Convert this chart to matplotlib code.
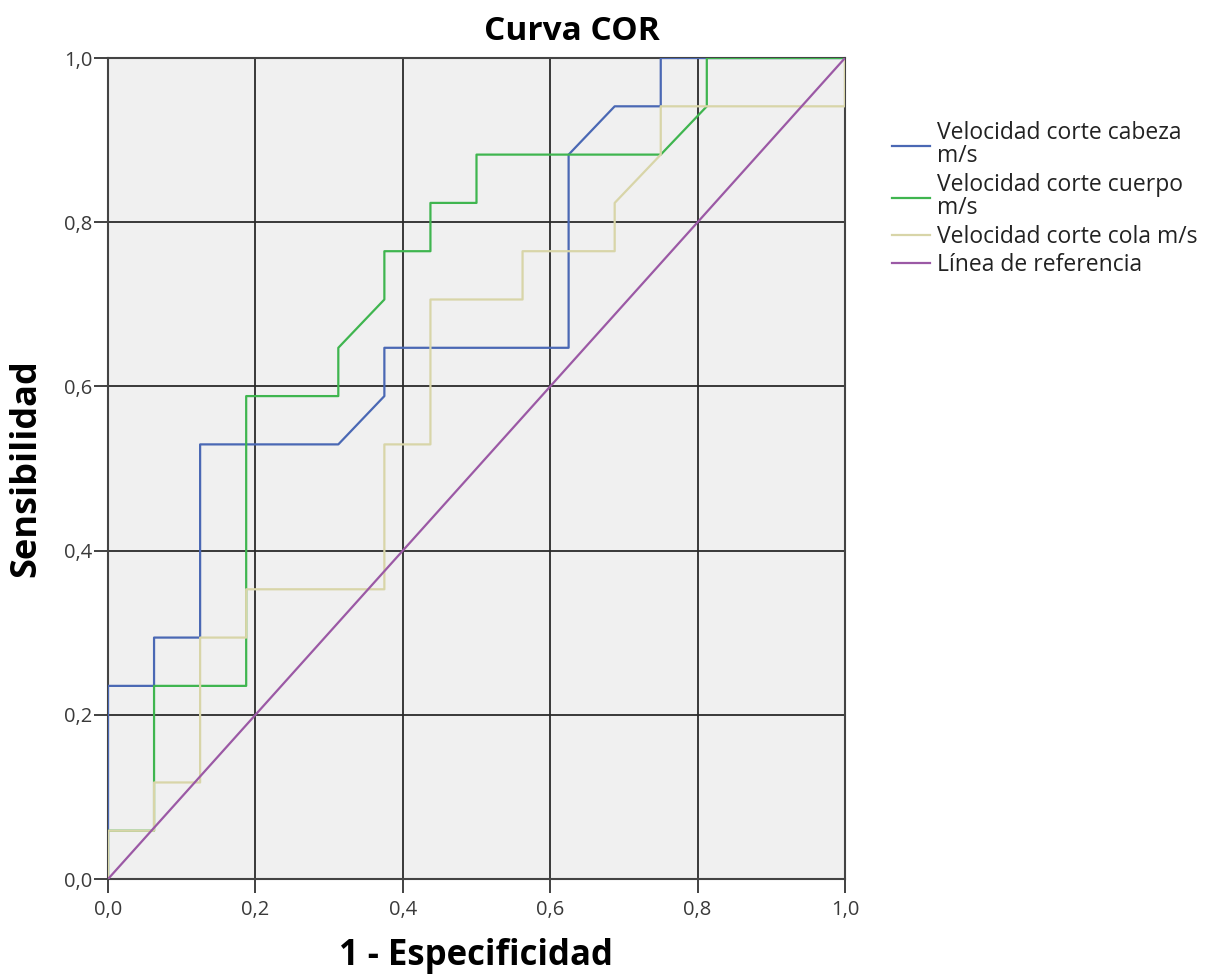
import matplotlib
matplotlib.use('Agg')
import matplotlib.pyplot as plt
from matplotlib.ticker import FuncFormatter

plt.rcParams['font.family'] = ['Open Sans', 'DejaVu Sans']

# curvas COR: 1 - especificidad (x) y sensibilidad (y), pasos de 1/16 y 1/17
cabeza_x = [0, 0, 1/16, 1/16, 2/16, 2/16, 5/16, 6/16, 6/16, 10/16, 10/16, 11/16, 12/16, 12/16, 1]
cabeza_y = [0, 4/17, 4/17, 5/17, 5/17, 9/17, 9/17, 10/17, 11/17, 11/17, 15/17, 16/17, 16/17, 1, 1]

cuerpo_x = [0, 0, 1/16, 1/16, 3/16, 3/16, 5/16, 5/16, 6/16, 6/16, 7/16, 7/16, 8/16, 8/16,
            12/16, 13/16, 13/16, 1]
cuerpo_y = [0, 1/17, 1/17, 4/17, 4/17, 10/17, 10/17, 11/17, 12/17, 13/17, 13/17, 14/17, 14/17,
            15/17, 15/17, 16/17, 1, 1]

cola_x = [0, 0, 1/16, 1/16, 2/16, 2/16, 3/16, 3/16, 6/16, 6/16, 7/16, 7/16, 9/16, 9/16,
          11/16, 11/16, 12/16, 12/16, 1, 1]
cola_y = [0, 1/17, 1/17, 2/17, 2/17, 5/17, 5/17, 6/17, 6/17, 9/17, 9/17, 12/17, 12/17, 13/17,
          13/17, 14/17, 15/17, 16/17, 16/17, 1]

ref_x = [0, 1]
ref_y = [0, 1]

etiquetas = ['Velocidad corte cabeza\nm/s', 'Velocidad corte cuerpo\nm/s',
             'Velocidad corte cola m/s', 'Línea de referencia']
colores = ['#4a68b4', '#3fb54f', '#d8d5a8', '#9b59a5']

fig = plt.figure(figsize=(12.08, 9.8), dpi=100)
ax = fig.add_axes([0.0894, 0.103, 0.6101, 0.8378])
ax.set_facecolor('#f0f0f0')

ax.plot(cabeza_x, cabeza_y, color=colores[0], lw=1.6, label=etiquetas[0], zorder=3)
ax.plot(cuerpo_x, cuerpo_y, color=colores[1], lw=1.6, label=etiquetas[1], zorder=3)
ax.plot(cola_x, cola_y, color=colores[2], lw=1.6, label=etiquetas[2], zorder=3)
ax.plot(ref_x, ref_y, color=colores[3], lw=1.6, label=etiquetas[3], zorder=3)

ax.set_xlim(0, 1)
ax.set_ylim(0, 1)
ticks = [0, 0.2, 0.4, 0.6, 0.8, 1.0]
ax.set_xticks(ticks)
ax.set_yticks(ticks)
fmt = FuncFormatter(lambda v, p: f'{v:.1f}'.replace('.', ','))
ax.xaxis.set_major_formatter(fmt)
ax.yaxis.set_major_formatter(fmt)
ax.tick_params(labelsize=14.5, length=10, width=1.3, color='#333333', labelcolor='#3a3a3a')
ax.tick_params(axis='y', pad=1)
ax.tick_params(axis='x', pad=5)
ax.grid(True, color='#2a2a2a', lw=1.3, zorder=1)
ax.set_axisbelow(True)
for s in ax.spines.values():
    s.set_color('#444444')
    s.set_linewidth(1.5)

# titulo: en el original queda algo a la derecha del centro del area
fig.text(0.473, 0.959, 'Curva COR', fontsize=24, fontweight='bold', ha='center', va='baseline')
ax.set_xlabel('1 - Especificidad', fontsize=25, fontweight='bold')
ax.set_ylabel('Sensibilidad', fontsize=26, fontweight='bold')
ax.xaxis.set_label_coords(0.5, -0.072)
ax.yaxis.set_label_coords(-0.087, 0.5)

leg = ax.legend(loc='upper left', bbox_to_anchor=(1.052, 0.934), frameon=False,
                fontsize=16.5, handlelength=1.65, handletextpad=0.3, labelspacing=0.2,
                borderaxespad=0)
for t in leg.get_texts():
    t.set_color('#222222')
    t.set_linespacing(0.95)

fig.savefig('out.png', dpi=100)
